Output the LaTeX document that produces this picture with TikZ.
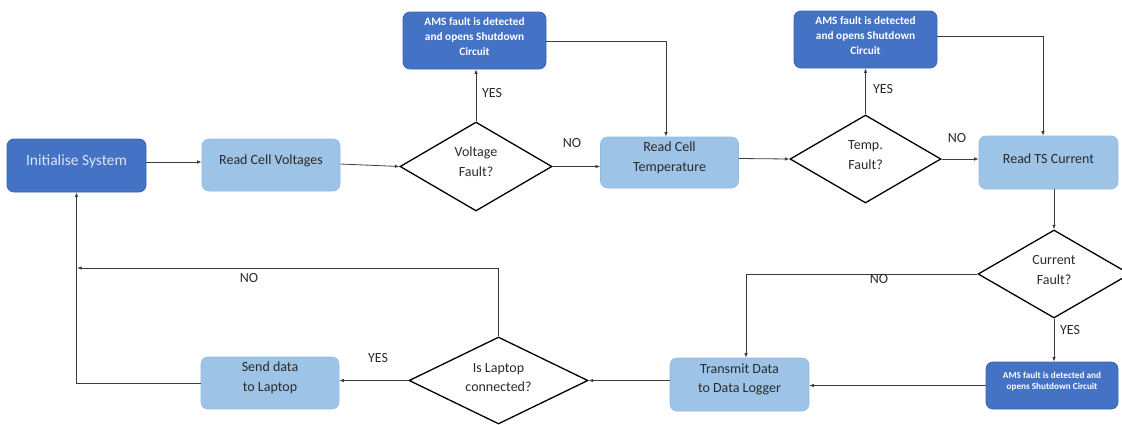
\documentclass[tikz,border=0pt]{standalone}
\usepackage{fontspec}
\setmainfont{Carlito}
\usetikzlibrary{shapes.geometric,arrows.meta}

\definecolor{darkbox}{HTML}{4472C4}
\definecolor{darkedge}{HTML}{3A64B2}
\definecolor{lightbox}{HTML}{9DC3E6}
\definecolor{lightedge}{HTML}{93BBE2}
\definecolor{inktext}{HTML}{2B2B2B}
\definecolor{wire}{HTML}{3C3C3C}
\definecolor{inittext}{HTML}{DCE5F4}

\tikzset{
  procbox/.style={rectangle, rounded corners=7pt, fill=lightbox, draw=lightedge,
    line width=0.6pt, minimum width=138pt, minimum height=52pt, inner sep=0pt},
  faultbox/.style={rectangle, rounded corners=7pt, fill=darkbox, draw=darkedge,
    line width=0.8pt, minimum width=143pt, minimum height=57pt, inner sep=0pt},
  decision/.style={diamond, draw=black, fill=white, line width=1.3pt,
    minimum width=152pt, minimum height=89pt, inner sep=0pt},
  ptext/.style={text=inktext, align=center, font=\fontsize{14}{19.7}\selectfont},
  ftext/.style={text=white, align=center, font=\fontsize{11.3}{14.7}\selectfont\bfseries},
  smallftext/.style={text=white, align=center, font=\fontsize{9.2}{11}\selectfont\bfseries},
  inittxt/.style={text=inittext, align=center, font=\fontsize{15.5}{19}\selectfont},
  answer/.style={text=inktext, font=\fontsize{14}{16}\selectfont, inner sep=0pt},
  flow/.style={draw=wire, line width=0.8pt, -{Latex[length=4.5pt,width=3.5pt]}},
}

\begin{document}
\begin{tikzpicture}[x=1pt,y=-1pt]
\useasboundingbox (0,0) rectangle (1122,424);

% ---- process and fault boxes ----
\node[faultbox, minimum width=139pt, minimum height=53pt] (init) at (76.5,165.5) {};
\node[inittxt] (init-t) at ([yshift=4pt]init.center) {Initialise System};

\node[procbox] (rcv) at (271,165) {};
\node[ptext] (rcv-t) at ([yshift=4pt]rcv.center) {Read Cell Voltages};

\node[decision] (vf) at (476,166.5) {};
\node[ptext] (vf-t) at ([yshift=5pt]vf.center) {Voltage\\Fault?};

\node[faultbox] (ams1) at (474.5,40.5) {};
\node[ftext] (ams1-t) at ([yshift=4pt]ams1.center) {AMS fault is detected\\and opens Shutdown\\Circuit};

\node[procbox, minimum height=51pt] (rct) at (669.5,162.5) {};
\node[ptext] (rct-t) at ([yshift=5pt]rct.center) {Read Cell\\Temperature};

\node[decision, minimum width=151pt, minimum height=88pt] (tf) at (865.5,159) {};
\node[ptext] (tf-t) at ([yshift=4pt]tf.center) {Temp.\\Fault?};

\node[faultbox] (ams2) at (865.5,39.5) {};
\node[ftext] (ams2-t) at ([yshift=4pt]ams2.center) {AMS fault is detected\\and opens Shutdown\\Circuit};

\node[procbox, minimum width=139pt, minimum height=53pt] (ts) at (1048.5,162.5) {};
\node[ptext] (ts-t) at ([yshift=4pt]ts.center) {Read TS Current};

\node[decision, minimum height=88pt] (cf) at (1054,274) {};
\node[ptext] (cf-t) at ([yshift=4pt]cf.center) {Current\\Fault?};

\node[faultbox, minimum width=132pt, minimum height=47pt] (ams3) at (1052,385.5) {};
\node[smallftext] (ams3-t) at ([yshift=4pt]ams3.center) {AMS fault is detected and\\opens Shutdown Circuit};

\node[procbox, minimum width=139pt, minimum height=53pt] (tdl) at (739.5,384.5) {};
\node[ptext] (tdl-t) at ([yshift=5pt]tdl.center) {Transmit Data\\to Data Logger};

\node[decision, minimum width=179pt, minimum height=87pt] (lc) at (498.5,380.5) {};
\node[ptext] (lc-t) at ([yshift=3pt]lc.center) {Is Laptop\\connected?};

\node[procbox] (sdl) at (270,383) {};
\node[ptext] (sdl-t) at ([yshift=5pt]sdl.center) {Send data\\to Laptop};

% return point on the loop-back line
\coordinate (ret) at (77,268);

% ---- connectors ----
\draw[flow] ([yshift=3.5pt]init.east) -- ([yshift=3pt]rcv.west);
\draw[flow] ([yshift=1pt]rcv.east) -- (vf.west);
\draw[flow] (vf.north) -- (vf.north |- ams1.south);
\draw[flow] ([yshift=-0.5pt]ams1.east) -| ([xshift=-3.5pt]rct.north);
\draw[flow] (vf.east) -- (vf.east -| rct.west);
\draw[flow] ([yshift=4pt]rct.east) -- (tf.west);
\draw[flow] (tf.north) -- (tf.north |- ams2.south);
\draw[flow] ([yshift=3.5pt]ams2.east) -| ([xshift=-5.5pt]ts.north);
\draw[flow] (tf.east) -- (tf.east -| ts.west);
\draw[flow] (cf.north |- ts.south) -- (cf.north);
\draw[flow] (cf.south) -- (cf.south |- ams3.north);
\draw[flow] (ams3.west) -- (ams3.west -| tdl.east);
\draw[flow] (cf.west) -| ([xshift=6.5pt]tdl.north);
\draw[flow] (lc.east -| tdl.west) -- (lc.east);
\draw[flow] (lc.west) -- (lc.west -| sdl.east);
\draw[flow] (lc.north) |- (ret);
\draw[flow] (sdl.west) -| (init.south);

% ---- branch labels ----
\node[answer] (y1) at (492,93) {YES};
\node[answer] (n1) at (572,143) {NO};
\node[answer] (y2) at (883,89) {YES};
\node[answer] (n2) at (957,138) {NO};
\node[answer] (y3) at (1070,330) {YES};
\node[answer] (n3) at (879,279) {NO};
\node[answer] (n4) at (249,278) {NO};
\node[answer] (y4) at (378,358) {YES};
\end{tikzpicture}
\end{document}
